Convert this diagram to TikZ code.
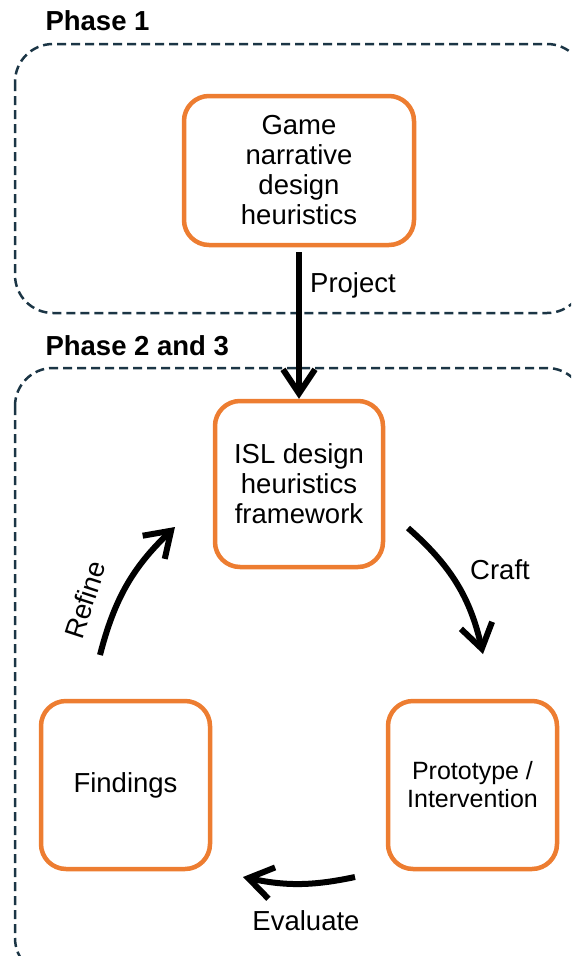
\documentclass[tikz,border=0pt]{standalone}
\usepackage{fontspec}
\setmainfont{Liberation Sans}
\usetikzlibrary{arrows.meta}
\definecolor{boxorange}{HTML}{ED7D31}
\definecolor{phaseline}{HTML}{1B3545}
\tikzset{
	heurbox/.style={draw=boxorange, line width=4.5pt, rounded corners=25pt, align=center, inner sep=0pt, font=\fontsize{27.5}{30}\selectfont},
	phasebox/.style={draw=phaseline, line width=2.5pt, dash pattern=on 9pt off 5pt, rounded corners=38pt},
	phaselabel/.style={anchor=west, font=\bfseries\fontsize{27.5}{30}\selectfont},
	flowarrow/.style={line width=6pt, arrows={-{Straight Barb[length=24pt,width=32pt]}}},
	arrowlabel/.style={font=\fontsize{27.5}{30}\selectfont},
}
\begin{document}
\begin{tikzpicture}[x=1pt,y=-1pt]
	\useasboundingbox (0,0) rectangle (571,956);
	\clip (0,0) rectangle (571,956);

	% phases
	\draw [phasebox] (15,44) rectangle (585,313);
	\draw [phasebox] (15,368) rectangle (585,976);
	\node [phaselabel] (phaseone) at (42,21) {Phase 1};
	\node [phaselabel] (phasetwo) at (42,346) {Phase 2 and 3};

	% boxes
	\node [heurbox, minimum width=230pt, minimum height=149pt] (game) at (299,170.5)
	{Game\\narrative\\design\\heuristics};
	\node [heurbox, minimum width=168pt, minimum height=166pt] (isl) at (299,484)
	{ISL design\\heuristics\\framework};
	\node [heurbox, minimum width=169pt, minimum height=168pt] (findings) at (125.5,785)
	{Findings};
	\node [heurbox, minimum width=169pt, minimum height=168pt, font=\fontsize{25}{28}\selectfont] (proto) at (472.5,785)
	{Prototype /\\Intervention};

	% project
	\draw [flowarrow, shorten <=5pt] (game.south) -- (isl.north);
	\node [arrowlabel] (projectlabel) at (353,285) {Project};

	% cycle
	\coordinate (craftstart) at (408,528);
	\coordinate (craftend) at (483,654);
	\coordinate (evalstart) at (355,877);
	\coordinate (evalend) at (243,877);
	\coordinate (refinestart) at (100,655);
	\coordinate (refineend) at (175,527);
	\draw [flowarrow] (craftstart) to [bend left=18] (craftend);
	\draw [flowarrow] (evalstart) to [bend left=12] (evalend);
	\draw [flowarrow] (refinestart) to [bend left=16] (refineend);
	\node [arrowlabel] (craftlabel) at (500,570) {Craft};
	\node [arrowlabel] (evallabel) at (306,921) {Evaluate};
	\node [arrowlabel, rotate=72] (refinelabel) at (85,600) {Refine};
\end{tikzpicture}
\end{document}
